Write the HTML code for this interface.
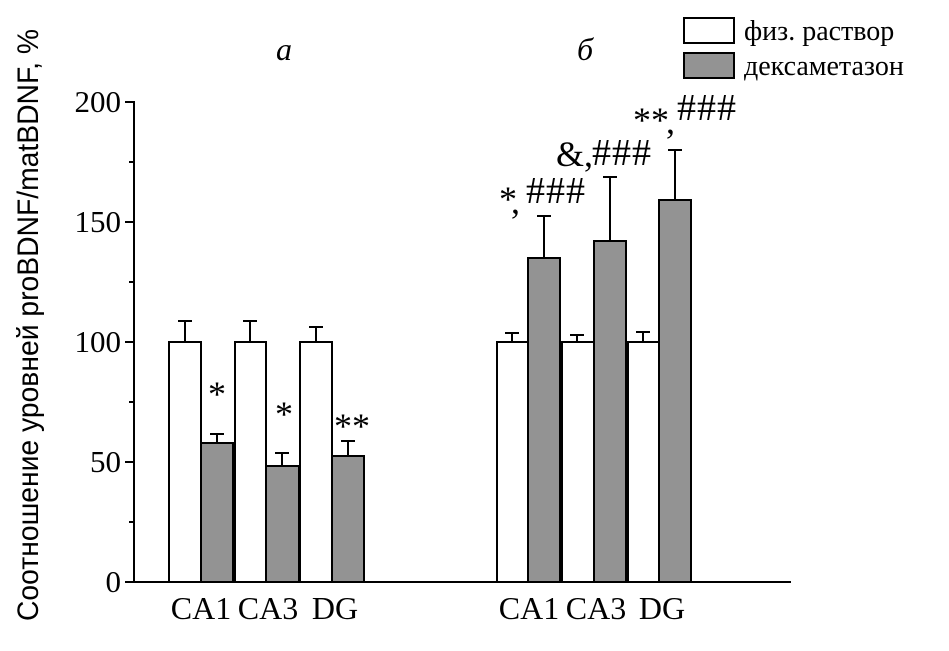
<!DOCTYPE html>
<html><head><meta charset="utf-8"><style>body{margin:0;background:#fff}svg{display:block}</style></head><body>
<svg width="949" height="651" viewBox="0 0 949 651" xmlns="http://www.w3.org/2000/svg" font-family="Liberation Serif, serif" fill="#000">
<rect width="949" height="651" fill="#fff"/>
<text transform="translate(38,325) rotate(-90)" text-anchor="middle" font-family="Liberation Sans, sans-serif" font-size="30" textLength="592" lengthAdjust="spacingAndGlyphs">Соотношение уровней proBDNF/matBDNF, %</text>
<text x="284" y="60" font-size="32" font-style="italic" text-anchor="middle">а</text>
<text x="585" y="60" font-size="32" font-style="italic" text-anchor="middle">б</text>
<g stroke="#000" stroke-width="2">
<line x1="134" y1="101" x2="134" y2="583"/>
<line x1="133" y1="582" x2="791" y2="582"/>
<line x1="125" y1="102" x2="134" y2="102"/>
<line x1="125" y1="222" x2="134" y2="222"/>
<line x1="125" y1="342" x2="134" y2="342"/>
<line x1="125" y1="462" x2="134" y2="462"/>
<line x1="125" y1="582" x2="134" y2="582"/>
<line x1="129" y1="162" x2="134" y2="162"/>
<line x1="129" y1="282" x2="134" y2="282"/>
<line x1="129" y1="402" x2="134" y2="402"/>
<line x1="129" y1="522" x2="134" y2="522"/>
</g>
<g font-size="31" text-anchor="end">
<text x="121" y="112">200</text>
<text x="121" y="232">150</text>
<text x="121" y="352">100</text>
<text x="121" y="472">50</text>
<text x="121" y="592">0</text>
</g>
<g stroke="#000" stroke-width="2">
<line x1="185" y1="342" x2="185" y2="321"/><line x1="178" y1="321" x2="192" y2="321"/>
<line x1="250" y1="342" x2="250" y2="321"/><line x1="243" y1="321" x2="257" y2="321"/>
<line x1="316" y1="342" x2="316" y2="327"/><line x1="309" y1="327" x2="323" y2="327"/>
<line x1="217" y1="443" x2="217" y2="434"/><line x1="210" y1="434" x2="224" y2="434"/>
<line x1="282" y1="466" x2="282" y2="453"/><line x1="275" y1="453" x2="289" y2="453"/>
<line x1="348" y1="456" x2="348" y2="441"/><line x1="341" y1="441" x2="355" y2="441"/>
<line x1="512" y1="342" x2="512" y2="333"/><line x1="505" y1="333" x2="519" y2="333"/>
<line x1="577" y1="342" x2="577" y2="335"/><line x1="570" y1="335" x2="584" y2="335"/>
<line x1="643" y1="342" x2="643" y2="332"/><line x1="636" y1="332" x2="650" y2="332"/>
<line x1="544" y1="258" x2="544" y2="216"/><line x1="537" y1="216" x2="551" y2="216"/>
<line x1="610" y1="241" x2="610" y2="177"/><line x1="603" y1="177" x2="617" y2="177"/>
<line x1="675" y1="200" x2="675" y2="150"/><line x1="668" y1="150" x2="682" y2="150"/>
</g>
<g stroke="#000" stroke-width="2">
<rect x="169" y="342" width="32" height="240" fill="#fff"/>
<rect x="235" y="342" width="31" height="240" fill="#fff"/>
<rect x="300" y="342" width="32" height="240" fill="#fff"/>
<rect x="201" y="443" width="32" height="139" fill="#939393"/>
<rect x="266" y="466" width="33" height="116" fill="#939393"/>
<rect x="332" y="456" width="32" height="126" fill="#939393"/>
<rect x="497" y="342" width="31" height="240" fill="#fff"/>
<rect x="562" y="342" width="32" height="240" fill="#fff"/>
<rect x="628" y="342" width="31" height="240" fill="#fff"/>
<rect x="528" y="258" width="32" height="324" fill="#939393"/>
<rect x="594" y="241" width="32" height="341" fill="#939393"/>
<rect x="659" y="200" width="32" height="382" fill="#939393"/>
</g>
<g font-size="36">
<text x="217" y="406" text-anchor="middle">*</text>
<text x="284" y="426" text-anchor="middle">*</text>
<text x="352" y="438" text-anchor="middle">**</text>
<text x="499" y="211">*</text>
<text x="511" y="213">,</text>
<text x="556" y="166">&amp;,</text>
<text x="633" y="132">**</text>
<text x="666" y="133">,</text>
</g>
<g font-size="38" letter-spacing="1">
<text x="526" y="203">###</text>
<text x="592" y="165">###</text>
<text x="677" y="120">###</text>
</g>
<g font-size="32" text-anchor="middle">
<text x="201" y="619">CA1</text>
<text x="268" y="619">CA3</text>
<text x="335" y="619">DG</text>
<text x="529" y="619">CA1</text>
<text x="596" y="619">CA3</text>
<text x="662" y="619">DG</text>
</g>
<rect x="684" y="18" width="50" height="25" fill="#fff" stroke="#000" stroke-width="2"/>
<rect x="684" y="53" width="50" height="25" fill="#939393" stroke="#000" stroke-width="2"/>
<text x="744" y="40" font-size="28">физ. раствор</text>
<text x="744" y="75" font-size="28">дексаметазон</text>
</svg>
</body></html>
